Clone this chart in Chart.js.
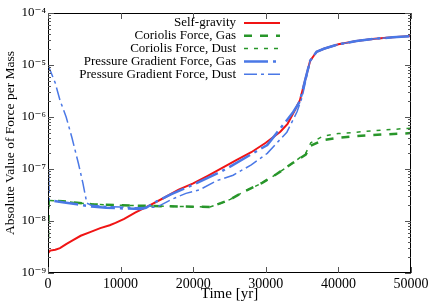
<!DOCTYPE html>
<html>
<head>
<meta charset="utf-8">
<script src="https://cdn.jsdelivr.net/npm/chart.js@4.4.0/dist/chart.umd.min.js"></script>
<style>
  html, body { margin: 0; padding: 0; background: #fff; }
</style>
</head>
<body>
<canvas id="forceChart" width="437" height="303"></canvas>
<script>
// time in yr, values in force per mass (log axis)
const sgTime = [0, 300, 1000, 1650, 2500, 3450, 4500, 5800, 7200, 8500, 9300, 10500, 12000, 14000, 16000, 18000, 20000, 22000, 24000, 26000, 28000, 30000, 32000, 33000, 34000, 34700, 35400, 36100, 37000, 38000, 40000, 42500, 45000, 47500, 50000];
const sgValue = [2.4e-9, 2.7e-9, 2.8e-9, 3.0e-9, 3.6e-9, 4.3e-9, 5.2e-9, 6.1e-9, 7.3e-9, 8.3e-9, 9.2e-9, 1.1e-8, 1.45e-8, 2.0e-8, 2.8e-8, 4.0e-8, 5.3e-8, 7.4e-8, 1.05e-7, 1.5e-7, 2.1e-7, 3.2e-7, 5.2e-7, 7.4e-7, 1.35e-6, 2.1e-6, 5.0e-6, 1.2e-5, 1.8e-5, 2.05e-5, 2.5e-5, 2.9e-5, 3.2e-5, 3.4e-5, 3.6e-5];

const corGasTime = [0, 100, 2000, 4000, 6000, 8000, 10000, 14000, 18000, 22300, 23800, 25100, 26900, 29500, 31500, 33700, 35500, 36200, 37900, 40000, 42500, 46000, 50000];
const corGasValue = [4.5e-9, 2.5e-8, 2.4e-8, 2.25e-8, 2.1e-8, 2.05e-8, 2.0e-8, 1.95e-8, 1.9e-8, 1.86e-8, 2.2e-8, 2.6e-8, 3.6e-8, 5.4e-8, 8.0e-8, 1.3e-7, 1.9e-7, 2.8e-7, 3.6e-7, 4.0e-7, 4.3e-7, 4.6e-7, 4.9e-7];

const corDustTime = [0, 100, 2000, 4000, 6000, 8000, 10000, 14000, 18000, 22300, 23800, 25100, 26900, 29500, 31500, 33700, 35500, 36200, 37900, 40000, 42500, 46000, 50000];
const corDustValue = [4.5e-9, 2.5e-8, 2.4e-8, 2.25e-8, 2.1e-8, 2.05e-8, 2.0e-8, 1.95e-8, 1.9e-8, 1.86e-8, 2.2e-8, 2.6e-8, 3.6e-8, 5.4e-8, 8.0e-8, 1.3e-7, 2.0e-7, 3.2e-7, 4.3e-7, 4.8e-7, 5.1e-7, 5.6e-7, 6.1e-7];

const pgGasTime = [0, 100, 2000, 4000, 6000, 8000, 10000, 12700, 13500, 15000, 17000, 20000, 23700, 25500, 30200, 33700, 34700, 35400, 36100, 37000, 38000, 40000, 42500, 45000, 47500, 50000];
const pgGasValue = [1.0e-7, 2.5e-8, 2.3e-8, 2.1e-8, 1.9e-8, 1.8e-8, 1.75e-8, 1.7e-8, 1.8e-8, 2.4e-8, 3.3e-8, 5.0e-8, 8.7e-8, 1.2e-7, 2.9e-7, 1.2e-6, 2.0e-6, 5.0e-6, 1.2e-5, 1.8e-5, 2.05e-5, 2.5e-5, 2.9e-5, 3.2e-5, 3.4e-5, 3.6e-5];

const pgDustTime = [0, 1000, 1650, 2500, 3300, 4200, 4800, 5350, 6000, 8000, 10000, 12000, 15000, 17000, 19000, 20900, 23300, 25500, 28000, 30200, 32900, 34300, 35000, 35500, 36100, 37000, 38000, 40000, 42500, 45000, 47500, 50000];
const pgDustValue = [1.0e-5, 4.5e-6, 2.1e-6, 1.0e-6, 4.0e-7, 1.26e-7, 5.4e-8, 2.2e-8, 2.0e-8, 1.9e-8, 1.85e-8, 1.8e-8, 1.85e-8, 2.6e-8, 3.4e-8, 4.0e-8, 6.0e-8, 7.6e-8, 1.2e-7, 2.0e-7, 5.1e-7, 1.26e-6, 2.4e-6, 5.0e-6, 1.2e-5, 1.8e-5, 2.05e-5, 2.5e-5, 2.9e-5, 3.2e-5, 3.4e-5, 3.6e-5];

const xTicks = [0, 10000, 20000, 30000, 40000, 50000];
const yTicks = [1e-9, 1e-8, 1e-7, 1e-6, 1e-5, 1e-4];
const yTickLabels = ['10⁻⁹', '10⁻⁸', '10⁻⁷', '10⁻⁶', '10⁻⁵', '10⁻⁴'];

const RED = '#f01414';
const GREEN = '#28962a';
const BLUE = '#4a78e6';
const SERIF = "'Liberation Serif', 'DejaVu Serif', serif";

function pts(ts, vs) {
    return ts.map((t, i) => ({ x: t, y: vs[i] }));
}

const series = [
    { label: 'Self-gravity', data: pts(sgTime, sgValue), borderColor: RED, borderWidth: 2, borderDash: [], order: 5 },
    { label: 'Coriolis Force, Gas', data: pts(corGasTime, corGasValue), borderColor: GREEN, borderWidth: 2.5, borderDash: [8, 8], order: 4 },
    { label: 'Coriolis Force, Dust', data: pts(corDustTime, corDustValue), borderColor: GREEN, borderWidth: 1.5, borderDash: [4, 6], order: 3 },
    { label: 'Pressure Gradient Force, Gas', data: pts(pgGasTime, pgGasValue), borderColor: BLUE, borderWidth: 2.5, borderDash: [24, 5, 3, 5], order: 2 },
    { label: 'Pressure Gradient Force, Dust', data: pts(pgDustTime, pgDustValue), borderColor: BLUE, borderWidth: 1.5, borderDash: [13, 4, 3, 4], order: 1 }
];

// box, inward ticks (gnuplot look) and the legend in the top right
const framePlugin = {
    id: 'frame',
    afterDraw(chart) {
        const { ctx, chartArea: a, scales } = chart;
        const x = scales.x, y = scales.y;
        ctx.save();
        ctx.strokeStyle = '#000';
        ctx.lineWidth = 1;
        ctx.setLineDash([]);
        ctx.strokeRect(a.left + 0.5, a.top + 0.5, a.right - a.left - 1, a.bottom - a.top - 1);

        ctx.strokeStyle = '#555';
        ctx.beginPath();
        xTicks.forEach(v => {
            const px = Math.round(x.getPixelForValue(v)) + 0.5;
            ctx.moveTo(px, a.bottom); ctx.lineTo(px, a.bottom - 6);
            ctx.moveTo(px, a.top); ctx.lineTo(px, a.top + 6);
        });
        for (let e = -9; e <= -4; e++) {
            const py = Math.round(y.getPixelForValue(yTicks[e + 9])) + 0.5;
            ctx.moveTo(a.left, py); ctx.lineTo(a.left + 6, py);
            ctx.moveTo(a.right, py); ctx.lineTo(a.right - 6, py);
            if (e < -4) {
                for (let m = 2; m <= 9; m++) {
                    const pm = Math.round(y.getPixelForValue(m * yTicks[e + 9])) + 0.5;
                    ctx.moveTo(a.left, pm); ctx.lineTo(a.left + 3, pm);
                    ctx.moveTo(a.right, pm); ctx.lineTo(a.right - 3, pm);
                }
            }
        }
        ctx.stroke();

        // legend
        ctx.font = '13px ' + SERIF;
        ctx.textAlign = 'right';
        ctx.textBaseline = 'middle';
        series.forEach((s, i) => {
            const ly = 23 + i * 12.8;
            ctx.fillStyle = '#000';
            ctx.fillText(s.label, 236, ly);
            ctx.strokeStyle = s.borderColor;
            ctx.lineWidth = s.borderWidth;
            ctx.setLineDash(s.borderDash);
            ctx.beginPath();
            ctx.moveTo(244, ly); ctx.lineTo(280, ly);
            ctx.stroke();
        });
        ctx.restore();
    }
};

new Chart(document.getElementById('forceChart'), {
    type: 'line',
    data: {
        datasets: series.map(s => ({
            label: s.label,
            data: s.data,
            borderColor: s.borderColor,
            borderWidth: s.borderWidth,
            borderDash: s.borderDash,
            order: s.order,
            pointRadius: 0,
            fill: false,
            tension: 0
        }))
    },
    options: {
        responsive: false,
        animation: false,
        layout: { padding: { top: 13, right: 26, left: 0, bottom: 0 } },
        plugins: { legend: { display: false }, tooltip: { enabled: false } },
        scales: {
            x: {
                type: 'linear', min: 0, max: 50000,
                grid: { display: false, drawTicks: false },
                border: { display: false },
                afterFit: s => { s.height = 30; },
                afterBuildTicks: s => { s.ticks = xTicks.map(v => ({ value: v })); },
                ticks: { color: '#000', padding: 3, maxRotation: 0, font: { family: SERIF, size: 14 }, callback: v => String(v) },
                title: { display: true, text: 'Time [yr]', color: '#000', padding: 0, font: { family: SERIF, size: 15 } }
            },
            y: {
                type: 'logarithmic', min: 1e-9, max: 1e-4,
                grid: { display: false, drawTicks: false },
                border: { display: false },
                afterFit: s => { s.width = 48; },
                afterBuildTicks: s => { s.ticks = yTicks.map(v => ({ value: v })); },
                ticks: {
                    color: '#000', padding: 2, font: { family: SERIF, size: 13 },
                    callback: (v) => yTickLabels[yTicks.findIndex(t => Math.abs(t - v) / t < 1e-6)] || ''
                },
                title: { display: true, text: 'Absolute Value of Force per Mass', color: '#000', padding: { top: 2, bottom: 0 }, font: { family: SERIF, size: 13.5 } }
            }
        }
    },
    plugins: [framePlugin]
});
</script>
</body>
</html>
